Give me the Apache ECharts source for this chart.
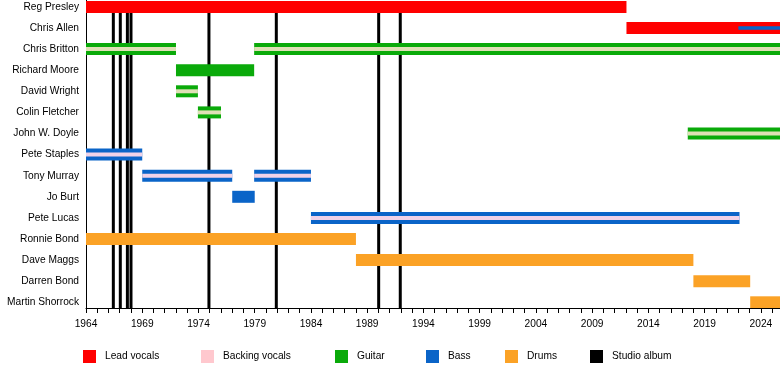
<!DOCTYPE html>
<html>
<head>
<meta charset="utf-8">
<script src="https://cdn.jsdelivr.net/npm/echarts@6/dist/echarts.min.js"></script>
<style>
html,body{margin:0;padding:0;background:#fff;}
#chart{width:780px;height:368px;}
</style>
</head>
<body>
<div id="chart"></div>
<script>
// ---- data ----
const members = ['Reg Presley','Chris Allen','Chris Britton','Richard Moore','David Wright','Colin Fletcher','John W. Doyle','Pete Staples','Tony Murray','Jo Burt','Pete Lucas','Ronnie Bond','Dave Maggs','Darren Bond','Martin Shorrock'];
const START_YEAR = 1964;
const END_YEAR = 2025.7;
const yearLabels = [1964,1969,1974,1979,1984,1989,1994,1999,2004,2009,2014,2019,2024];
// [member index, start, end]
const leadVocals = [[0,1964,2012.05],[1,2012.05,2025.7]];
const guitar = [[2,1964,1972],[2,1978.95,2025.7],[3,1972,1978.95],[4,1972,1973.95],[5,1973.95,1976],[6,2017.5,2025.7]];
const bass = [[7,1964,1969],[8,1969,1977],[8,1978.95,1984],[9,1977,1979],[10,1984,2022.1]];
const drums = [[11,1964,1988],[12,1988,2018],[13,2018,2023.05],[14,2023.05,2025.7]];
// backing vocals stripes: [member index, start, end, host role (0 guitar, 1 bass)]
const backingVocals = [[2,1964,1972,0],[2,1978.95,2025.7,0],[4,1972,1973.95,0],[5,1973.95,1976,0],[6,2017.5,2025.7,0],[7,1964,1969,1],[8,1969,1977,1],[8,1978.95,1984,1],[10,1984,2022.1,1]];
// secondary bass stripe
const bassStripe = [[1,2022,2025.7]];
const studioAlbums = [1966.43,1967.05,1967.68,1968.0,1974.93,1980.92,1990.02,1991.94];

const colors = {lead:'#ff0000', backing:'#ffc8ce', guitar:'#0aaa0a', bass:'#0a64c8', drums:'#fba226', album:'#000000'};
const stripeOn = ['#dfe0b6','#f0d2e8'];
const Y_MIN = -0.327, Y_MAX = 14.27;
const FONT = 'Liberation Sans, Arial, sans-serif';

function barRender(h, colorFn){
  return function(params, api){
    const row = api.value(0);
    const p1 = api.coord([api.value(1), row]);
    const p2 = api.coord([api.value(2), row]);
    return {type:'rect', shape:{x:p1[0], y:p1[1]-h/2, width:p2[0]-p1[0], height:h},
      style:{fill: colorFn(api)}};
  };
}
function barSeries(name, data, h, colorFn, z, color){
  return {type:'custom', name:name, data:data, z:z, clip:true,
    itemStyle:{color:color},
    encode:{x:[1,2], y:0},
    renderItem: barRender(h, colorFn)};
}

const series = [
  {type:'custom', name:'Studio album', z:1, itemStyle:{color:colors.album},
   data: studioAlbums.map(v=>[v]), encode:{x:0},
   renderItem:function(params, api){
     const top = api.coord([api.value(0), 0]);
     const bot = api.coord([api.value(0), Y_MAX]);
     return {type:'line', shape:{x1:top[0], y1:top[1], x2:bot[0], y2:bot[1]},
       style:{stroke:colors.album, lineWidth:3}};
   }},
  barSeries('Lead vocals', leadVocals, 12, ()=>colors.lead, 2, colors.lead),
  barSeries('Guitar', guitar, 12, ()=>colors.guitar, 2, colors.guitar),
  barSeries('Bass', bass, 12, ()=>colors.bass, 2, colors.bass),
  barSeries('Drums', drums, 12, ()=>colors.drums, 2, colors.drums),
  barSeries('Backing vocals', backingVocals, 4, (api)=>stripeOn[api.value(3)], 3, colors.backing),
  barSeries('Bass', bassStripe, 3.5, ()=>colors.bass, 3, colors.bass)
];

const legendItems = [
  ['Lead vocals',83],['Backing vocals',201],['Guitar',335],['Bass',426],['Drums',505],['Studio album',590]
];

const option = {
  animation:false,
  backgroundColor:'#ffffff',
  grid:{left:86, right:0, top:0, height:308, containLabel:false},
  xAxis:{type:'value', min:START_YEAR, max:END_YEAR, interval:1, position:'bottom',
    axisLine:{show:true, onZero:false, lineStyle:{color:'#000', width:1}},
    axisTick:{show:true, length:5, lineStyle:{color:'#000'}},
    splitLine:{show:false},
    axisLabel:{customValues:yearLabels, margin:11.5, color:'#000', fontSize:10.2, fontFamily:FONT,
      formatter:(v)=>String(v)}},
  yAxis:{type:'value', min:Y_MIN, max:Y_MAX, inverse:true, position:'left',
    axisLine:{show:true, onZero:false, lineStyle:{color:'#000', width:1}},
    axisTick:{show:false}, splitLine:{show:false},
    axisLabel:{customValues:members.map((m,i)=>i), margin:7, color:'#000', fontSize:10.2, fontFamily:FONT,
      formatter:(v)=>members[Math.round(v)] || ''}},
  legend: legendItems.map(([n,l])=>({data:[n], left:l, top:350, itemWidth:13, itemHeight:13,
    icon:'rect', padding:0, textStyle:{fontSize:10.2, fontFamily:FONT, color:'#000', padding:[0,0,0,4]},
    selectedMode:false})),
  series: series
};
const chart = echarts.init(document.getElementById('chart'), null, {renderer:'canvas'});
chart.setOption(option);
</script>
</body>
</html>
